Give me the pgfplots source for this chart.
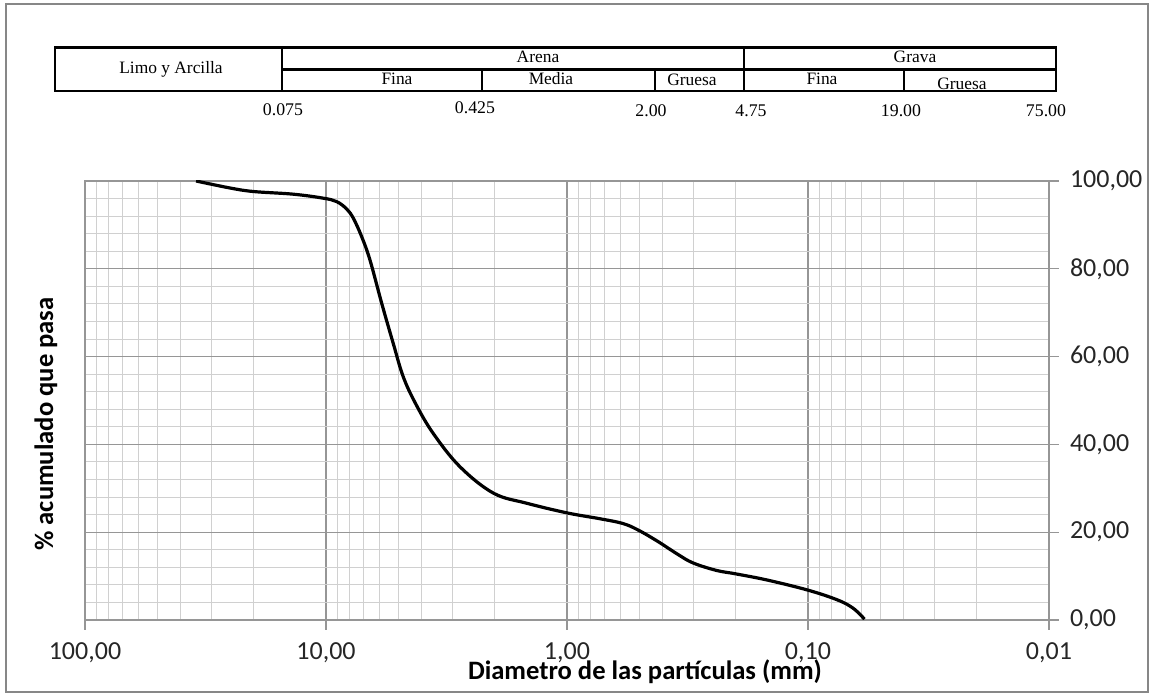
\documentclass[border=0pt]{standalone}
\usepackage{pgfplots}
\pgfplotsset{compat=1.18}
\usepackage{fontspec}
\setmainfont{Carlito}
\newfontfamily\tms{Liberation Serif}
\definecolor{majgrid}{RGB}{150,150,150}
\definecolor{mingrid}{RGB}{208,208,208}
\definecolor{framec}{RGB}{135,135,135}
\begin{document}
\begin{tikzpicture}
\useasboundingbox (0,0) rectangle (577bp,347bp);
\fill[white] (0,0) rectangle (577bp,347bp);
\begin{axis}[
  at={(42.5bp,37bp)}, anchor=south west,
  scale only axis, width=482bp, height=219.5bp,
  xmode=log, x dir=reverse, xmin=0.01, xmax=100,
  ymin=0, ymax=100,
  xtick={0.01,0.1,1,10,100},
  xticklabels={{0,01},{0,10},{1,00},{10,00},{100,00}},
  minor xtick={0.02,0.03,0.04,0.05,0.06,0.07,0.08,0.09,0.2,0.3,0.4,0.5,0.6,0.7,0.8,0.9,2,3,4,5,6,7,8,9,20,30,40,50,60,70,80,90},
  ytick={0,20,40,60,80,100},
  yticklabels={{0,00},{20,00},{40,00},{60,00},{80,00},{100,00}},
  minor ytick={4,8,12,16,24,28,32,36,44,48,52,56,64,68,72,76,84,88,92,96},
  grid=both,
  major grid style={majgrid, line width=0.6bp},
  minor grid style={mingrid, line width=0.5bp},
  axis line style={majgrid, line width=0.6bp},
  xtick pos=bottom, ytick pos=right, yticklabel pos=right,
  tick align=outside,
  major tick length=5bp, minor tick length=0pt,
  every tick/.style={majgrid, line width=0.6bp},
  ticklabel style={font=\fontsize{13bp}{15bp}\selectfont, text=black!85},
  xticklabel style={yshift=-3bp},
  yticklabel style={anchor=west, xshift=2bp},
]
\addplot[black, line width=1.6bp, smooth, tension=0.6] coordinates {
(34.6,100) (25,98.4) (20.0,97.6) (13.7,97.0) (10.3,96.1) (9.03,95.3) (8.2,93.6) (7.7,91.5)
(7.11,87.3) (6.57,82.0) (5.87,72.1) (5.26,63.0) (4.78,55.4) (4.24,49.2) (3.59,42.5)
(2.78,34.9) (2.02,28.9) (1.47,26.6) (1.0,24.4) (0.736,23.1) (0.588,22.0)
(0.507,20.5) (0.42,17.9) (0.348,15.0) (0.30,13.0) (0.24,11.3) (0.199,10.5)
(0.1476,9.1) (0.1,6.8) (0.0753,4.55) (0.0649,2.66) (0.0583,0.2)
};
\end{axis}
\begin{scope}[x=0.5bp, y=-0.5bp, shift={(0,347bp)}]
  \draw[framec, line width=1bp] (6,4) rectangle (1148,692.5);
  \draw[black, line width=1.1bp] (55,47.5) rectangle (1056,91);
  \draw[black, line width=1.1bp] (282,47.5)--(282,91) (744,47.5)--(744,91)
     (282,69.5)--(1056,69.5) (482,69.5)--(482,91) (655,69.5)--(655,91) (904,69.5)--(904,91);
  \tikzset{tt/.style={font=\tms\fontsize{8.7bp}{10bp}\selectfont, anchor=base, inner sep=0pt},
           nn/.style={font=\tms\fontsize{8.9bp}{10bp}\selectfont, anchor=base, inner sep=0pt}}
  \node[tt] at (171,74) {Limo y Arcilla};
  \node[tt] at (538,63) {Arena};
  \node[tt] at (915,62.7) {Grava};
  \node[tt] at (397,85) {Fina};
  \node[tt] at (551,85) {Media};
  \node[tt] at (692,86) {Gruesa};
  \node[tt] at (822,85) {Fina};
  \node[tt] at (962,89.5) {Gruesa};
  \node[nn] at (283,116) {0.075};
  \node[nn] at (475,114) {0.425};
  \node[nn] at (651,117) {2.00};
  \node[nn] at (751,117) {4.75};
  \node[nn] at (901,117) {19.00};
  \node[nn] at (1046,117) {75.00};
  \node[font=\bfseries\fontsize{13.3bp}{15bp}\selectfont, anchor=base, inner sep=0pt] at (645,680) {Diametro de las partículas (mm)};
  \node[font=\bfseries\fontsize{13.3bp}{15bp}\selectfont, anchor=base, rotate=90, inner sep=0pt] at (53,424) {\% acumulado que pasa};
\end{scope}
\end{tikzpicture}
\end{document}
